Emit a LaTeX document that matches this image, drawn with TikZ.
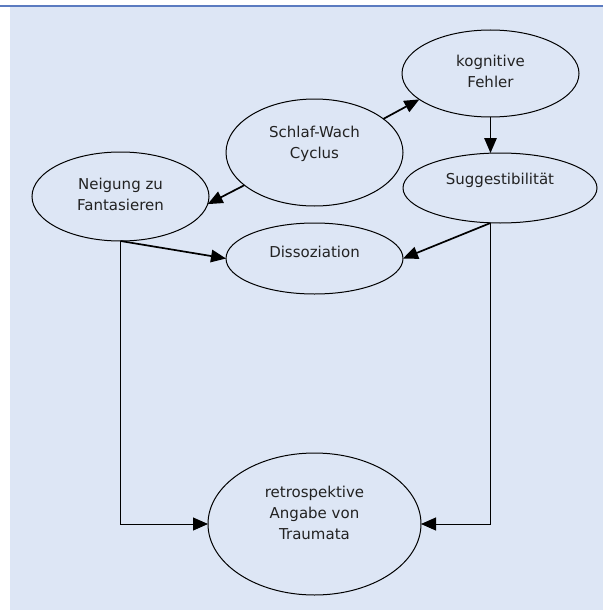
\documentclass[tikz,border=0pt]{standalone}
\usepackage{fontspec}
\setmainfont{DejaVu Sans}
\usetikzlibrary{shapes.geometric,arrows.meta}
\definecolor{bgblue}{HTML}{DDE6F5}
\definecolor{topline}{HTML}{5B7BC0}
\definecolor{txt}{HTML}{222222}
\tikzset{
  ell/.style={draw=black, ellipse, line width=1pt, inner sep=0pt, outer sep=0pt},
  lbl/.style={align=center, text=txt, font=\fontsize{15}{21}\selectfont},
  arr/.style={-{Triangle[length=15pt,width=12.5pt]}, line width=1.7pt},
  elbow/.style={-{Triangle[length=15pt,width=13pt]}, line width=1pt},
}
\begin{document}
\begin{tikzpicture}[x=1pt,y=-1pt]
\useasboundingbox (0,0) rectangle (603,610);
\fill[bgblue] (10,7) rectangle (603,610);
\draw[topline, line width=2pt] (0,6) -- (603,6);

\node[ell, minimum width=177pt, minimum height=87pt,
  label={[lbl, yshift=2pt]center:kognitive\\Fehler}] (kog) at (490.5,73.5) {};
\node[ell, minimum width=177pt, minimum height=107pt,
  label={[lbl, yshift=9pt]center:Schlaf-Wach\\Cyclus}] (schlaf) at (314.5,152.5) {};
\node[ell, minimum width=177pt, minimum height=89pt,
  label={[lbl, yshift=2.5pt]center:Neigung zu\\Fantasieren}] (neig) at (120.5,196.5) {};
\node[ell, minimum width=194pt, minimum height=70pt,
  label={[lbl, yshift=8pt]center:Suggestibilität}] (sugg) at (500,188) {};
\node[ell, minimum width=177pt, minimum height=71pt,
  label={[lbl, yshift=7pt]center:Dissoziation}] (diss) at (314.5,258.5) {};
\node[ell, minimum width=213pt, minimum height=142pt,
  label={[lbl, yshift=11pt]center:retrospektive\\Angabe von\\Traumata}] (retro) at (314.5,524) {};

\coordinate (sb) at (kog.south |- sugg.south);

\draw[arr] (schlaf.26) -- (kog.200.5);
\draw[arr] (schlaf.205.7) -- (neig.-5.5);
\draw[arr, line width=1.4pt] (kog.south) -- (kog.south |- sugg.north);
\draw[arr] (neig.south) -- (diss.west);
\draw[arr] (sb) -- (diss.east);
\draw[elbow] (neig.south) |- (retro.west);
\draw[elbow] (sb) |- (retro.east);
\end{tikzpicture}
\end{document}
